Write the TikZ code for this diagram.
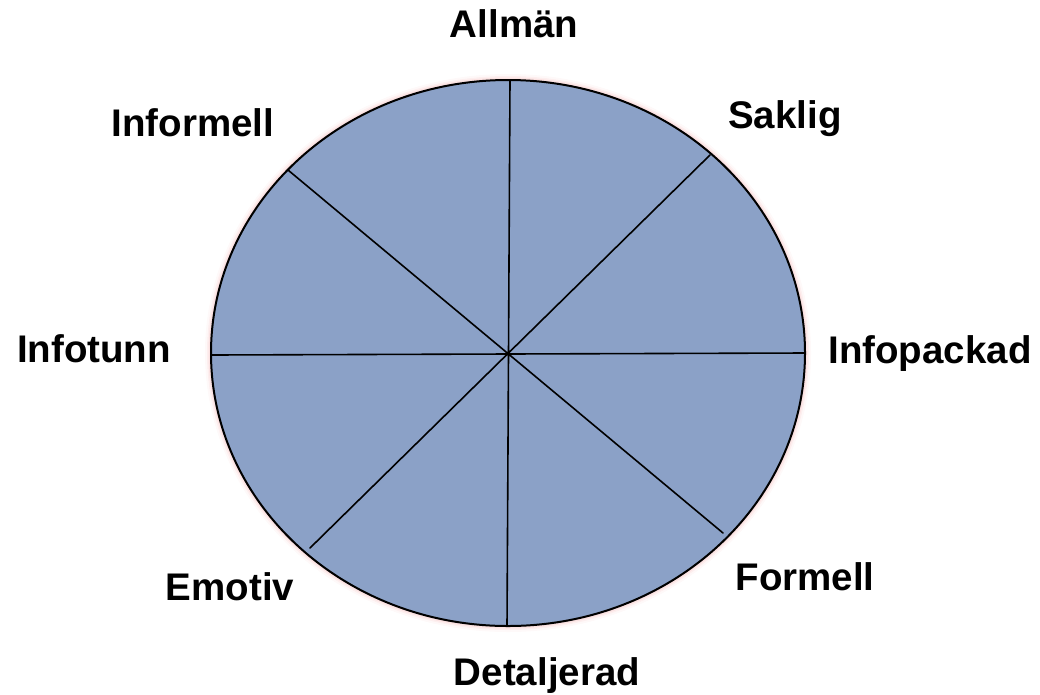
\documentclass[tikz,border=0pt]{standalone}
\usepackage{fontspec}
\setmainfont{Liberation Sans}
\definecolor{wheelblue}{RGB}{139,161,199}
\definecolor{glow}{RGB}{240,150,150}

\begin{document}
\begin{tikzpicture}[x=1pt, y=-1pt, line cap=round, line join=round,
  lbl/.style={anchor=base, inner sep=0pt, font=\fontsize{38.5}{40}\selectfont\bfseries}]
  \useasboundingbox (0,0) rectangle (1040,694);

  \coordinate (o) at (508,353);

  \coordinate (top) at (510,80);
  \coordinate (bot) at (507,626);
  \coordinate (lft) at (211,355);
  \coordinate (rgt) at (805,353);
  \coordinate (ul) at (288,170);
  \coordinate (lr) at (723,533);
  \coordinate (ur) at (710,155);
  \coordinate (ll) at (310,548);

  \foreach \w/\op in {12/0.06, 8/0.1, 5/0.15} % soft halo
    \draw[glow, line width=\w pt, opacity=\op] (o) ellipse [x radius=297, y radius=273];
  \fill[wheelblue] (o) ellipse [x radius=297, y radius=273];

  \draw[line width=1.6pt] (top)--(bot) (lft)--(rgt) (ul)--(lr) (ur)--(ll); % spokes
  \draw[line width=2pt] (o) ellipse [x radius=297, y radius=273];

  \node[lbl] (allman) at (514,37)  {Allmän};
  \node[lbl] (saklig) at (785,128) {Saklig};
  \node[lbl] (infopackad) at (930,363) {Infopackad};
  \node[lbl] (formell) at (805,590) {Formell};
  \node[lbl] (detaljerad) at (547,685) {Detaljerad};
  \node[lbl] (emotiv) at (230,600) {Emotiv};
  \node[lbl] (infotunn) at (94,362) {Infotunn};
  \node[lbl] (informell) at (193,136) {Informell};
\end{tikzpicture}
\end{document}
